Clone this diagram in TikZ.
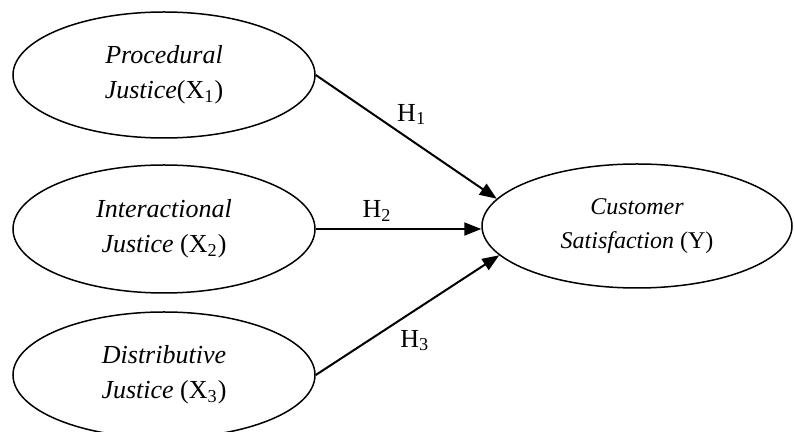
\documentclass[tikz,border=0pt]{standalone}
\usepackage{fontspec}
\setmainfont{Liberation Serif}
\usetikzlibrary{arrows.meta,shapes.geometric}

\begin{document}
\begin{tikzpicture}[x=0.5pt, y=-0.5pt,
  construct/.style={draw, ellipse, line width=0.75pt, align=center, inner sep=0pt,
                    minimum width=151pt, minimum height=63pt,
                    font=\fontsize{13}{17.5}\selectfont},
  outcome/.style={construct, minimum width=155pt, minimum height=62pt,
                  font=\fontsize{12}{17}\selectfont},
  hyp/.style={-{Triangle[length=8.5pt, width=6.5pt]}, line width=1pt},
  hlabel/.style={font=\fontsize{13}{15}\selectfont}]
\useasboundingbox (0,0) rectangle (794,432);
\node[construct] (pj) at (164,75)  {\textit{Procedural}\\\textit{Justice}(X\textsubscript{1})};
\node[construct, minimum height=64pt] (ij) at (164,229) {\textit{Interactional}\\\textit{Justice} (X\textsubscript{2})};
\node[construct] (dj) at (164,375) {\textit{Distributive}\\\textit{Justice} (X\textsubscript{3})};
\node[outcome] (cs) at (637,226) {\textit{Customer}\\\textit{Satisfaction} (Y)};
% hypothesised paths
\draw[hyp] (pj.east) -- node[hlabel, pos=0.53, above=4pt] {H\textsubscript{1}} (cs.169);
\draw[hyp] (ij.east) -- node[hlabel, pos=0.37, above] {H\textsubscript{2}} (ij.east -| cs.west);
\draw[hyp] (dj.east) -- node[hlabel, pos=0.54, below=6pt] {H\textsubscript{3}} (cs.192);
\end{tikzpicture}
\end{document}
